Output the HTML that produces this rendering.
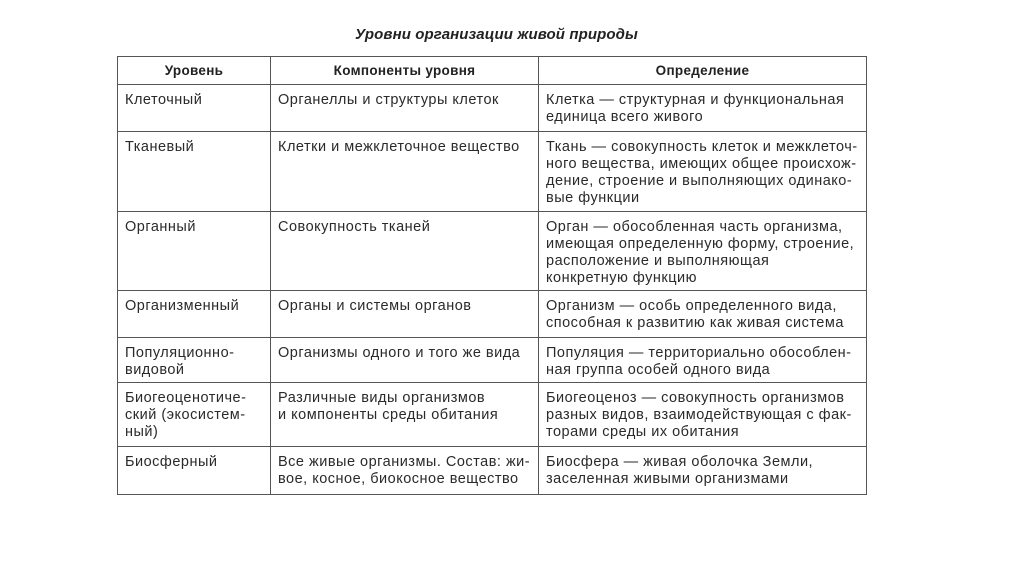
<!DOCTYPE html>
<html><head><meta charset="utf-8"><style>
html,body{margin:0;padding:0;background:#fff;width:1024px;height:574px;overflow:hidden}
.t{position:absolute;left:355px;top:26px;font:italic bold 15px "Liberation Sans","DejaVu Sans",sans-serif;color:#222;white-space:nowrap;letter-spacing:0.1px}
table{position:absolute;left:117px;top:56px;border-collapse:collapse;table-layout:fixed;width:749px}
td,th{border:1.5px solid #555;vertical-align:top;padding:7px 7px 0 7px;font:14.5px/17px "Liberation Sans","DejaVu Sans",sans-serif;color:#2a2a2a;overflow:hidden;white-space:nowrap;letter-spacing:0.5px}
th{font-weight:bold;font-size:13.5px;text-align:center;vertical-align:middle;padding:0;color:#222;letter-spacing:0.3px}
</style></head><body>
<div class="t">Уровни организации живой природы</div>
<table>
<colgroup><col style="width:153px"><col style="width:268px"><col style="width:328px"></colgroup>
<tr style="height:28px"><th>Уровень</th><th>Компоненты уровня</th><th>Определение</th></tr>
<tr style="height:47px"><td>Клеточный</td><td>Органеллы и структуры клеток</td><td>Клетка — структурная и функциональная<br>единица всего живого</td></tr>
<tr style="height:80px"><td>Тканевый</td><td>Клетки и межклеточное вещество</td><td>Ткань — совокупность клеток и межклеточ-<br>ного вещества, имеющих общее происхож-<br>дение, строение и выполняющих одинако-<br>вые функции</td></tr>
<tr style="height:79px"><td>Органный</td><td>Совокупность тканей</td><td>Орган — обособленная часть организма,<br>имеющая определенную форму, строение,<br>расположение и выполняющая<br>конкретную функцию</td></tr>
<tr style="height:47px"><td>Организменный</td><td>Органы и системы органов</td><td>Организм — особь определенного вида,<br>способная к развитию как живая система</td></tr>
<tr style="height:45px"><td>Популяционно-<br>видовой</td><td>Организмы одного и того же вида</td><td>Популяция — территориально обособлен-<br>ная группа особей одного вида</td></tr>
<tr style="height:64px"><td>Биогеоценотиче-<br>ский (экосистем-<br>ный)</td><td>Различные виды организмов<br>и компоненты среды обитания</td><td>Биогеоценоз — совокупность организмов<br>разных видов, взаимодействующая с фак-<br>торами среды их обитания</td></tr>
<tr style="height:48px"><td>Биосферный</td><td>Все живые организмы. Состав: жи-<br>вое, косное, биокосное вещество</td><td>Биосфера — живая оболочка Земли,<br>заселенная живыми организмами</td></tr>
</table>
</body></html>
